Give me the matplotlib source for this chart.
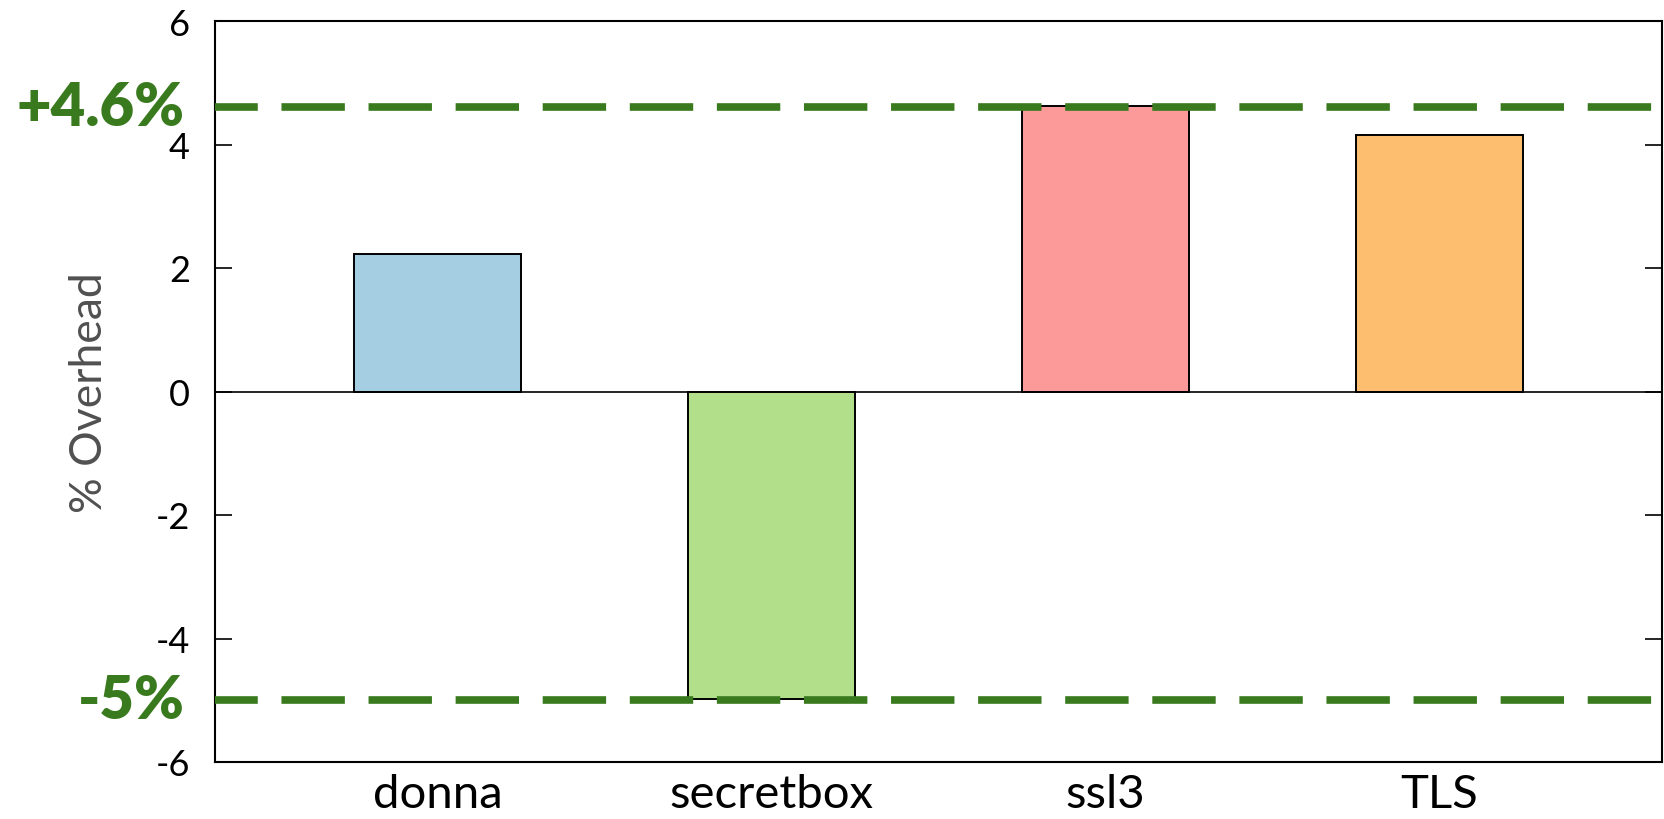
import matplotlib
matplotlib.use("Agg")
import matplotlib.pyplot as plt
import matplotlib.transforms as mtransforms

# Benchmark overheads
categories = ["donna", "secretbox", "ssl3", "TLS"]
overhead = [2.22, -4.98, 4.62, 4.15]
bar_colors = ["#a6cee3", "#b2df8a", "#fb9a99", "#fdbf6f"]
bounds = [4.6, -5.0]
bound_labels = ["+4.6%", "-5%"]
yticks = [-6, -4, -2, 0, 2, 4, 6]

plt.rcParams["font.family"] = ["Lato", "DejaVu Sans"]

fig = plt.figure(figsize=(16.64, 8.2), dpi=100)
ax = fig.add_axes([215 / 1664, 57 / 820, 1447 / 1664, 741 / 820])

x = list(range(len(categories)))
ax.bar(x, overhead, width=0.5, color=bar_colors, edgecolor="black",
       linewidth=1.4, zorder=2)

ax.axhline(0, color="black", linewidth=1.2, zorder=3)

green = "#3a7a1e"
trans = mtransforms.blended_transform_factory(ax.transAxes, ax.transData)
for val, lab in zip(bounds, bound_labels):
    ax.axhline(val, color=green, linewidth=5.5,
               linestyle=(2.7, (8.3, 3.1)), zorder=4)
    ax.text(-0.021, val, lab, transform=trans, ha="right", va="center",
            color=green, fontsize=43, fontweight="heavy", clip_on=False)

ax.set_xlim(-2 / 3, 3 + 2 / 3)
ax.set_ylim(-6, 6)
ax.set_xticks(x)
ax.set_xticklabels(categories)
ax.set_yticks(yticks)
ax.set_yticklabels([str(t) for t in yticks])

ax.tick_params(axis="y", direction="in", length=12, width=1.2,
               labelsize=26, pad=18, right=True)
ax.tick_params(axis="x", length=0, labelsize=34, pad=8)

for s in ax.spines.values():
    s.set_linewidth(1.5)

ax.set_ylabel("% Overhead", fontsize=32, color="#505050")
ax.yaxis.set_label_coords(-0.0726, 0.5)

fig.savefig("out.png", dpi=100)
